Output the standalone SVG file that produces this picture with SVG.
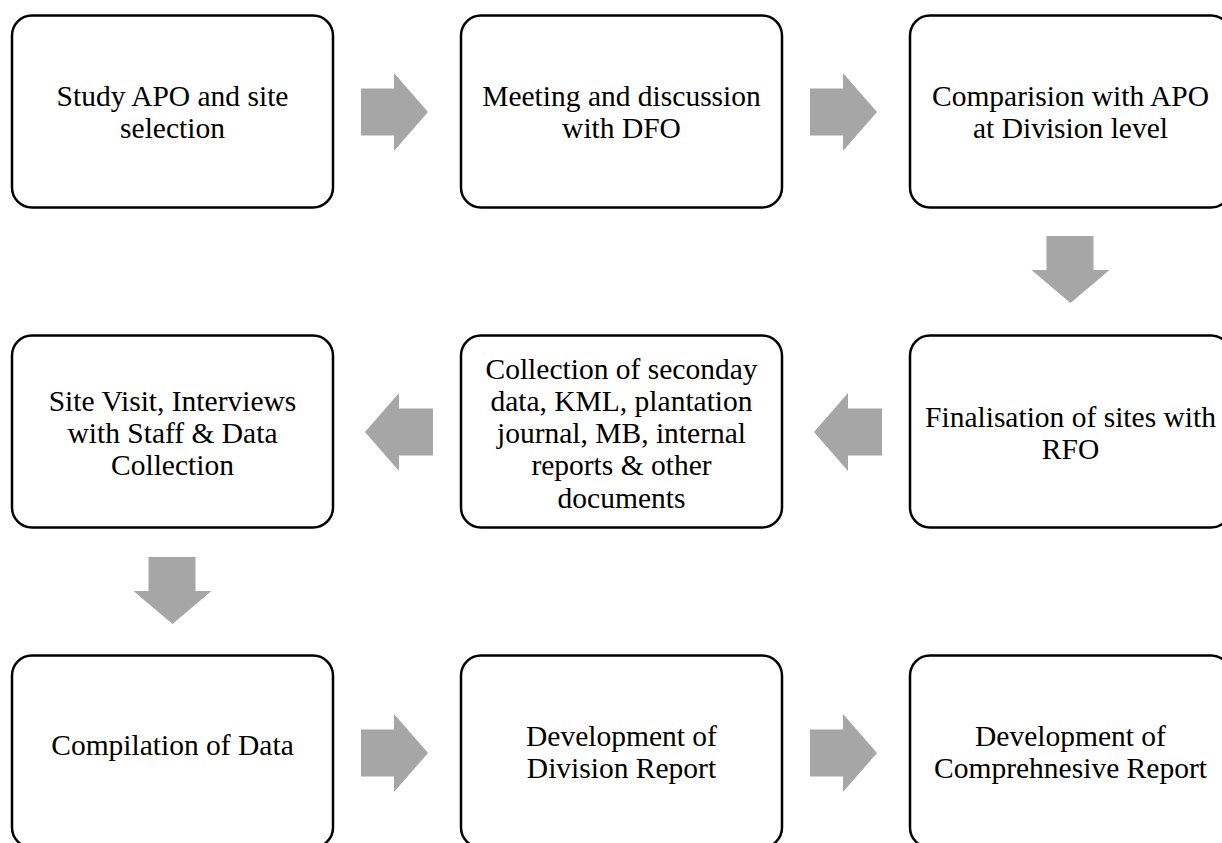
<svg xmlns="http://www.w3.org/2000/svg" width="1222" height="843" viewBox="0 0 1222 843">
<style>
.box{fill:#fff;stroke:#000;stroke-width:2.5}
.t{font-family:"Liberation Serif","Times New Roman",serif;font-size:29.5px;fill:#000;text-anchor:middle}
.arr{fill:#a6a6a6;stroke:none}
</style>
<rect width="1222" height="843" fill="#fff"/>
<g id="n1"><rect class="box" x="12" y="15.5" width="321" height="192" rx="20"/>
<text class="t" x="172.5" y="106">Study APO and site</text><text class="t" x="172.5" y="138">selection</text></g>
<g id="n2"><rect class="box" x="461" y="15.5" width="321" height="192" rx="20"/>
<text class="t" x="621.5" y="106">Meeting and discussion</text><text class="t" x="621.5" y="138">with DFO</text></g>
<g id="n3"><rect class="box" x="910" y="15.5" width="321" height="192" rx="20"/>
<text class="t" x="1070.5" y="106">Comparision with APO</text><text class="t" x="1070.5" y="138">at Division level</text></g>
<g id="n4"><rect class="box" x="910" y="335.5" width="321" height="192" rx="20"/>
<text class="t" x="1070.5" y="426.5">Finalisation of sites with</text><text class="t" x="1070.5" y="458.5">RFO</text></g>
<g id="n5"><rect class="box" x="461" y="335.5" width="321" height="192" rx="20"/>
<text class="t" x="621.5" y="378.5">Collection of seconday</text><text class="t" x="621.5" y="410.8">data, KML, plantation</text><text class="t" x="621.5" y="443.1">journal, MB, internal</text><text class="t" x="621.5" y="475.4">reports &amp; other</text><text class="t" x="621.5" y="507.7">documents</text></g>
<g id="n6"><rect class="box" x="12" y="335.5" width="321" height="192" rx="20"/>
<text class="t" x="172.5" y="411">Site Visit, Interviews</text><text class="t" x="172.5" y="443">with Staff &amp; Data</text><text class="t" x="172.5" y="475">Collection</text></g>
<g id="n7"><rect class="box" x="12" y="655.5" width="321" height="192" rx="20"/>
<text class="t" x="172.5" y="755">Compilation of Data</text></g>
<g id="n8"><rect class="box" x="461" y="655.5" width="321" height="192" rx="20"/>
<text class="t" x="621.5" y="745.5">Development of</text><text class="t" x="621.5" y="777.5">Division Report</text></g>
<g id="n9"><rect class="box" x="910" y="655.5" width="321" height="192" rx="20"/>
<text class="t" x="1070.5" y="745.5">Development of</text><text class="t" x="1070.5" y="777.5">Comprehnesive Report</text></g>
<g id="connectors">
<polygon class="arr" points="361,88.5 394,88.5 394,73 428,112 394,151 394,135.5 361,135.5"/>
<polygon class="arr" points="810,88.5 843,88.5 843,73 877,112 843,151 843,135.5 810,135.5"/>
<polygon class="arr" points="1046.5,236 1093.5,236 1093.5,270 1109.5,270 1070.5,303 1031.5,270 1046.5,270"/>
<polygon class="arr" points="882,408.5 848,408.5 848,393 814,432 848,471 848,455.5 882,455.5"/>
<polygon class="arr" points="433,408.5 399,408.5 399,393 365,432 399,471 399,455.5 433,455.5"/>
<polygon class="arr" points="148.5,557 195.5,557 195.5,591 211.5,591 172.5,624 133.5,591 148.5,591"/>
<polygon class="arr" points="361,729.5 394,729.5 394,714 428,753 394,792 394,776.5 361,776.5"/>
<polygon class="arr" points="810,729.5 843,729.5 843,714 877,753 843,792 843,776.5 810,776.5"/>
</g>
</svg>
